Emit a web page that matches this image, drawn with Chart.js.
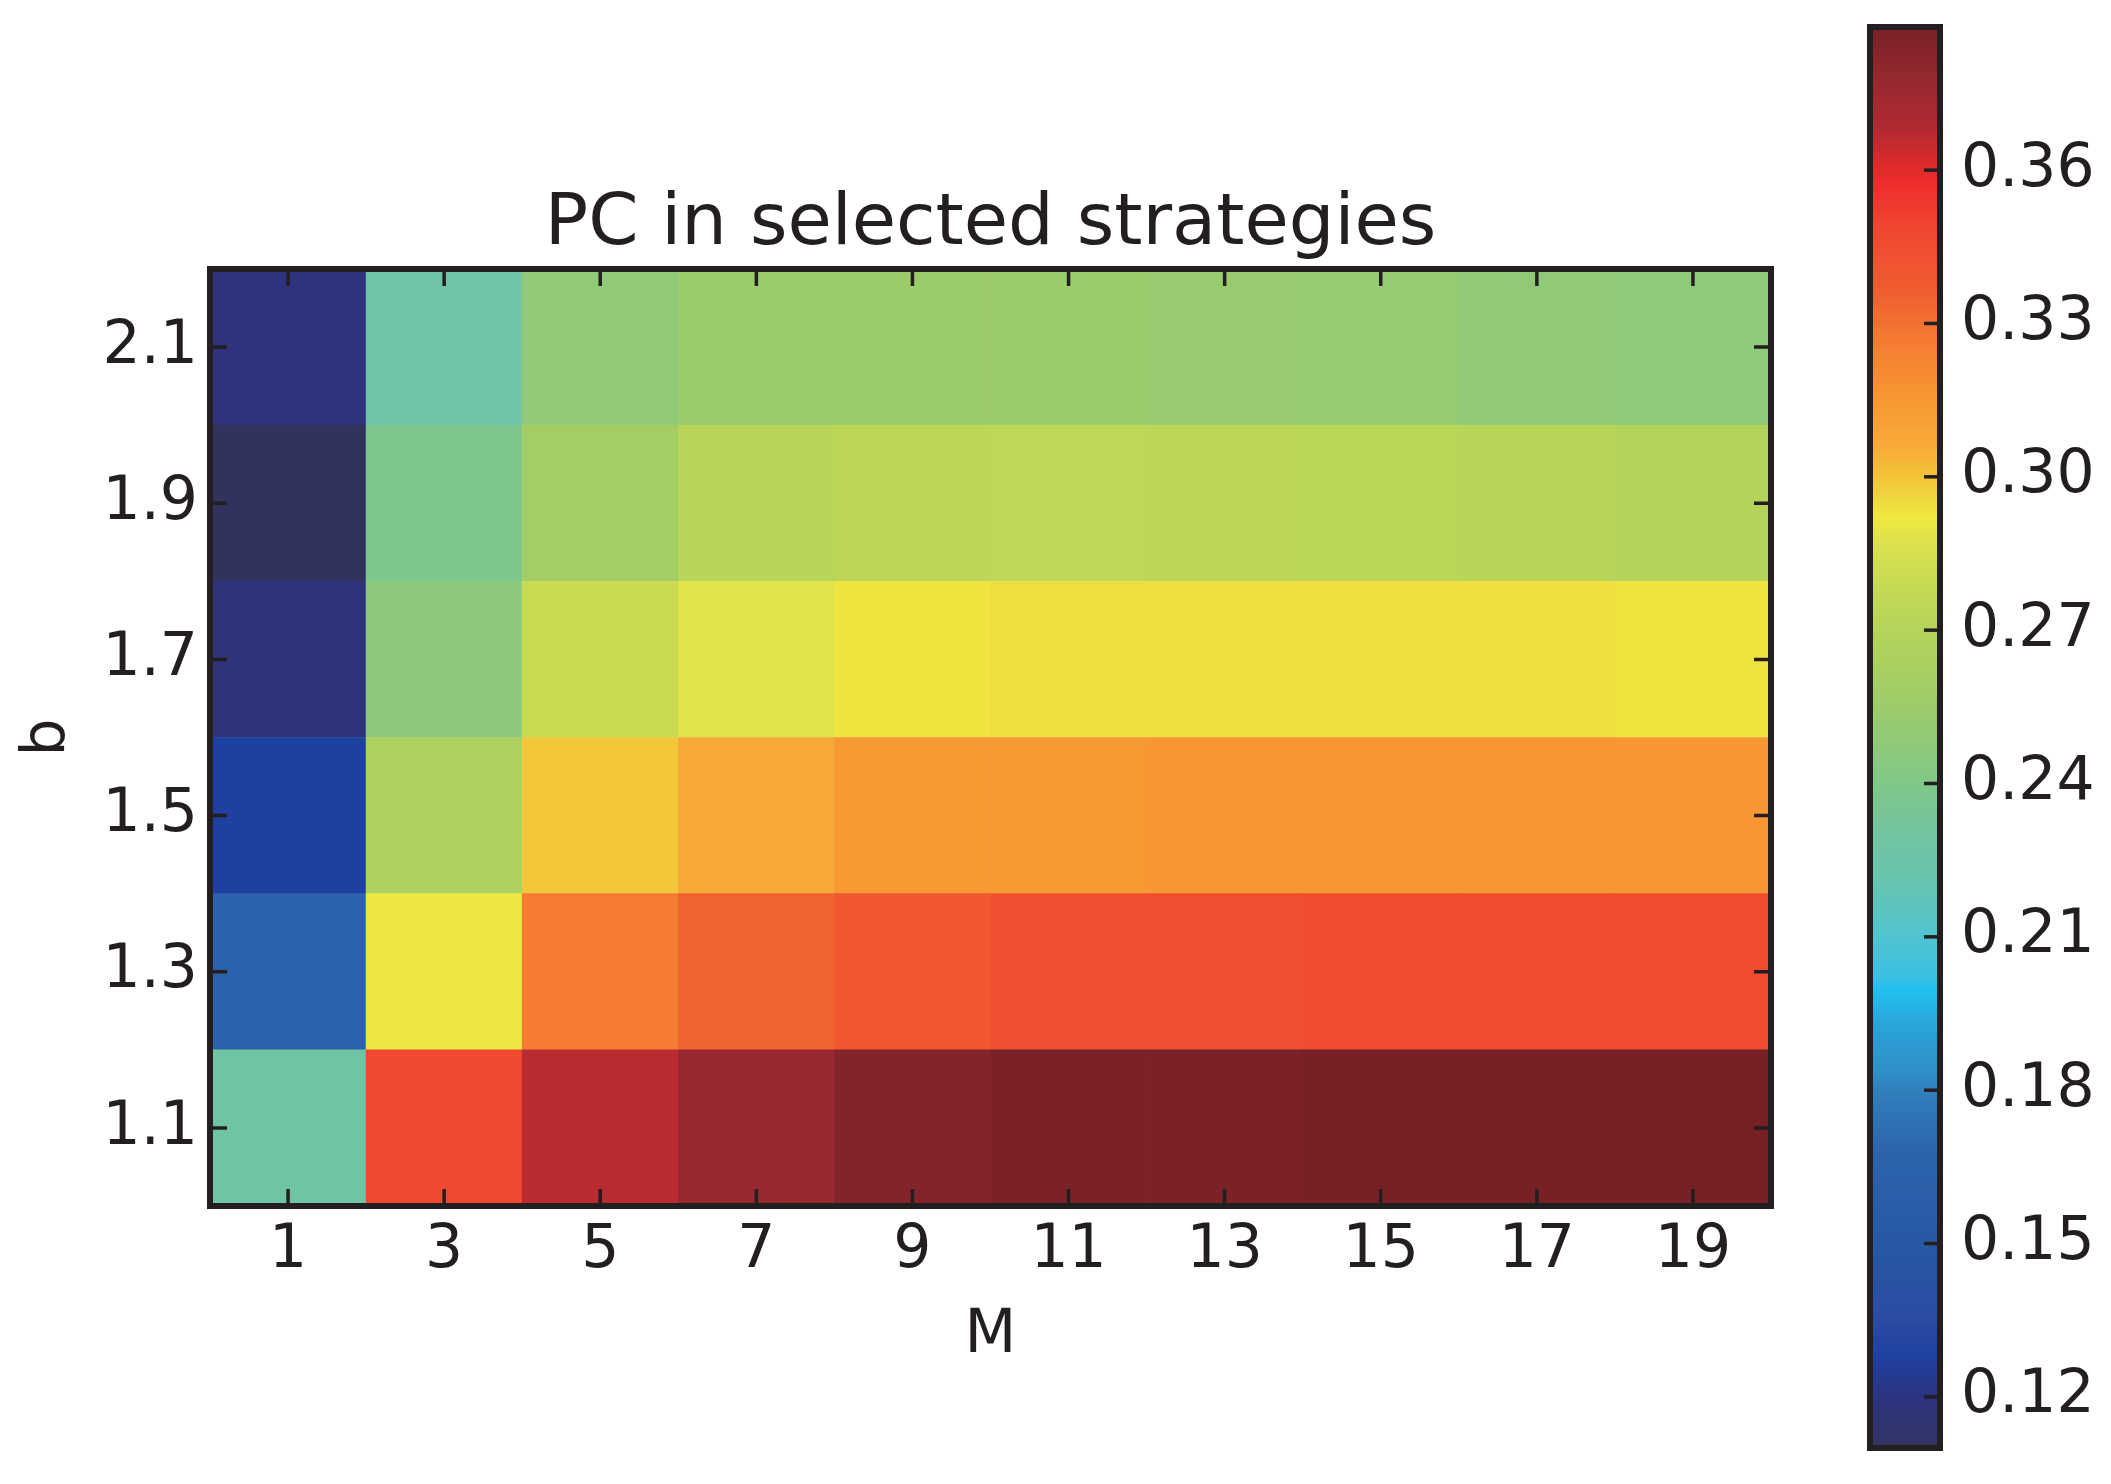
<!DOCTYPE html>
<html><head><meta charset="utf-8">
<script src="https://cdn.jsdelivr.net/npm/chart.js@4.4.1/dist/chart.umd.min.js"></script>
<style>
html,body{margin:0;padding:0;background:#fff;overflow:hidden;width:2111px;height:1484px}
#main{position:absolute;left:0;top:0}
#cbar{position:absolute;left:1840px;top:0}
</style></head>
<body>
<canvas id="main" width="2111" height="1484"></canvas>
<canvas id="cbar" width="271" height="1484"></canvas>
<script>
// ---- data ----
const mValues = [1, 3, 5, 7, 9, 11, 13, 15, 17, 19];
const bValues = [1.1, 1.3, 1.5, 1.7, 1.9, 2.1];
const pc_b11 = [0.228, 0.347, 0.367, 0.377, 0.384, 0.387, 0.387, 0.388, 0.388, 0.388];
const pc_b13 = [0.165, 0.291, 0.326, 0.334, 0.340, 0.344, 0.344, 0.345, 0.345, 0.345];
const pc_b15 = [0.128, 0.265, 0.299, 0.306, 0.314, 0.3145, 0.316, 0.316, 0.316, 0.316];
const pc_b17 = [0.118, 0.246, 0.280, 0.288, 0.293, 0.2945, 0.294, 0.294, 0.294, 0.293];
const pc_b19 = [0.110, 0.238, 0.259, 0.272, 0.274, 0.275, 0.274, 0.273, 0.272, 0.269];
const pc_b21 = [0.119, 0.227, 0.248, 0.254, 0.254, 0.254, 0.252, 0.251, 0.248, 0.247];
const cbarTicks = [0.12, 0.15, 0.18, 0.21, 0.24, 0.27, 0.30, 0.33, 0.36];
const titleText = 'PC in selected strategies';
const xLabel = 'M';
const yLabel = 'b';

// ---- style ----
const INK = '#231f20';
const FONT = "'DejaVu Sans'";
const cmapStops = [
  [0.0000, '#32325e'], [0.0079, '#32346a'], [0.0360, '#2c3480'], [0.0640, '#1e40a0'],
  [0.0899, '#2a4ca2'], [0.1442, '#2858a4'], [0.2076, '#2c64ac'], [0.2518, '#3080bc'],
  [0.2662, '#3090c8'], [0.3014, '#28a8dc'], [0.3223, '#22c0ee'], [0.3317, '#3ac0e4'],
  [0.3597, '#50c4d0'], [0.3978, '#66c4b0'], [0.4327, '#72c4a0'], [0.4676, '#80c888'],
  [0.5262, '#a0cc68'], [0.5755, '#b4d45a'], [0.5971, '#c0d855'], [0.6320, '#d8e050'],
  [0.6547, '#f0e840'], [0.6673, '#f0d840'], [0.6835, '#f3c438'], [0.7050, '#f8aa38'],
  [0.7410, '#f79632'], [0.7878, '#f47432'], [0.8129, '#f05e30'], [0.8597, '#f04530'],
  [0.8885, '#ee2e2c'], [0.9014, '#e02a2a'], [0.9295, '#b02a32'], [0.9640, '#962830'],
  [1.0000, '#772126']
];
const allVals = [pc_b11, pc_b13, pc_b15, pc_b17, pc_b19, pc_b21].flat();
const vmin = Math.min(...allVals), vmax = Math.max(...allVals);

function hexRgb(h){return [parseInt(h.slice(1,3),16),parseInt(h.slice(3,5),16),parseInt(h.slice(5,7),16)];}
function cmap(v){
  let t = (v - vmin) / (vmax - vmin);
  t = Math.max(0, Math.min(1, t));
  for (let i = 1; i < cmapStops.length; i++) {
    if (t <= cmapStops[i][0]) {
      const [t0, c0] = cmapStops[i-1], [t1, c1] = cmapStops[i];
      const f = (t - t0) / (t1 - t0);
      const a = hexRgb(c0), b = hexRgb(c1);
      return 'rgb(' + a.map((x, k) => Math.round(x + (b[k] - x) * f)).join(',') + ')';
    }
  }
  return cmapStops[cmapStops.length-1][1];
}

Chart.defaults.font.family = FONT;
Chart.defaults.color = INK;

const rows = [pc_b11, pc_b13, pc_b15, pc_b17, pc_b19, pc_b21];
const halfStep = (bValues[1] - bValues[0]) / 2;

const framePlugin = {
  id: 'frame',
  afterDraw(chart, args, opts) {
    const {ctx, chartArea: a, scales} = chart;
    ctx.save();
    ctx.strokeStyle = INK;
    ctx.lineWidth = 3.5;
    ctx.lineCap = 'butt';
    const L = opts.tickLen;
    if (opts.xTicks) {
      opts.xTicks.forEach(v => {
        const p = scales.x.getPixelForValue(v);
        ctx.beginPath();
        ctx.moveTo(p, a.bottom); ctx.lineTo(p, a.bottom - L);
        ctx.moveTo(p, a.top); ctx.lineTo(p, a.top + L);
        ctx.stroke();
      });
    }
    if (opts.yTicks) {
      opts.yTicks.forEach(v => {
        const p = scales.y.getPixelForValue(v);
        ctx.beginPath();
        if (opts.leftTicks) { ctx.moveTo(a.left, p); ctx.lineTo(a.left + L, p); }
        ctx.moveTo(a.right, p); ctx.lineTo(a.right - L, p);
        ctx.stroke();
      });
    }
    ctx.lineWidth = 6;
    ctx.lineJoin = 'miter';
    ctx.strokeRect(a.left, a.top, a.right - a.left, a.bottom - a.top);
    ctx.restore();
  }
};

new Chart(document.getElementById('main'), {
  type: 'bar',
  data: {
    datasets: bValues.map((b, i) => ({
      label: 'b=' + b,
      xAxisID: 'x',
      yAxisID: 'y',
      data: mValues.map(m => ({x: m, y: [b - halfStep, b + halfStep]})),
      backgroundColor: rows[i].map(cmap),
      borderWidth: 0
    }))
  },
  options: {
    responsive: false,
    animation: false,
    devicePixelRatio: 1,
    layout: {padding: {left: 0, right: 340, top: 0, bottom: 0}},
    datasets: {bar: {barPercentage: 1, categoryPercentage: 1, grouped: false}},
    plugins: {
      legend: {display: false},
      tooltip: {enabled: false},
      title: {display: false},
      frame: {tickLen: 17, xTicks: mValues, yTicks: bValues, leftTicks: true}
    },
    scales: {
      x: {
        type: 'linear', min: 0, max: 20, offset: false,
        grid: {display: false, drawTicks: false},
        border: {display: false},
        afterBuildTicks: s => { s.ticks = mValues.map(v => ({value: v})); },
        afterFit: s => { s.height = 278; },
        ticks: {font: {size: 60}, padding: 9, maxRotation: 0, autoSkip: false,
          callback: v => String(v)},
        title: {display: true, text: xLabel, font: {size: 60}, padding: {top: 0, bottom: 112}}
      },
      xTop: {
        type: 'linear', position: 'top', min: 0, max: 20, offset: false,
        grid: {display: false, drawTicks: false},
        border: {display: false},
        ticks: {display: false},
        afterFit: s => { s.height = 269; },
        title: {display: true, text: titleText, font: {size: 72}, padding: {top: 182, bottom: 0}}
      },
      y: {
        type: 'linear', min: 1.0, max: 2.2,
        grid: {display: false, drawTicks: false},
        border: {display: false},
        afterBuildTicks: s => { s.ticks = bValues.map(v => ({value: v})); },
        afterFit: s => { s.width = 210; },
        ticks: {font: {size: 60}, padding: 12, autoSkip: false,
          callback: v => Number(v).toFixed(1)},
        title: {display: true, text: yLabel, font: {size: 60}, padding: {top: 12, bottom: 0}}
      }
    }
  },
  plugins: [framePlugin]
});

new Chart(document.getElementById('cbar'), {
  type: 'bar',
  data: {
    labels: [''],
    datasets: [{
      data: [[vmin, vmax]],
      borderWidth: 0,
      backgroundColor: (c) => {
        const ch = c.chart;
        const y = ch.scales && ch.scales.y;
        if (!y) return cmap(vmax);
        const p0 = y.getPixelForValue(vmin), p1 = y.getPixelForValue(vmax);
        if (!isFinite(p0) || !isFinite(p1) || p0 === p1) return cmap(vmax);
        const g = ch.ctx.createLinearGradient(0, p0, 0, p1);
        cmapStops.forEach(([t, col]) => g.addColorStop(t, col));
        return g;
      }
    }]
  },
  options: {
    responsive: false,
    animation: false,
    devicePixelRatio: 1,
    layout: {padding: {left: 30, right: 0, top: 27, bottom: 36}},
    datasets: {bar: {barPercentage: 1, categoryPercentage: 1}},
    plugins: {
      legend: {display: false},
      tooltip: {enabled: false},
      title: {display: false},
      frame: {tickLen: 16, yTicks: cbarTicks, leftTicks: false}
    },
    scales: {
      x: {display: false, offset: true},
      y: {
        type: 'linear', position: 'right', min: vmin, max: vmax,
        grid: {display: false, drawTicks: false},
        border: {display: false},
        afterBuildTicks: s => { s.ticks = cbarTicks.map(v => ({value: v})); },
        afterFit: s => { s.width = 171; s.paddingTop = 0; s.paddingBottom = 0; },
        ticks: {font: {size: 60}, padding: 21, autoSkip: false,
          callback: v => Number(v).toFixed(2)}
      }
    }
  },
  plugins: [framePlugin]
});
</script>
</body></html>
